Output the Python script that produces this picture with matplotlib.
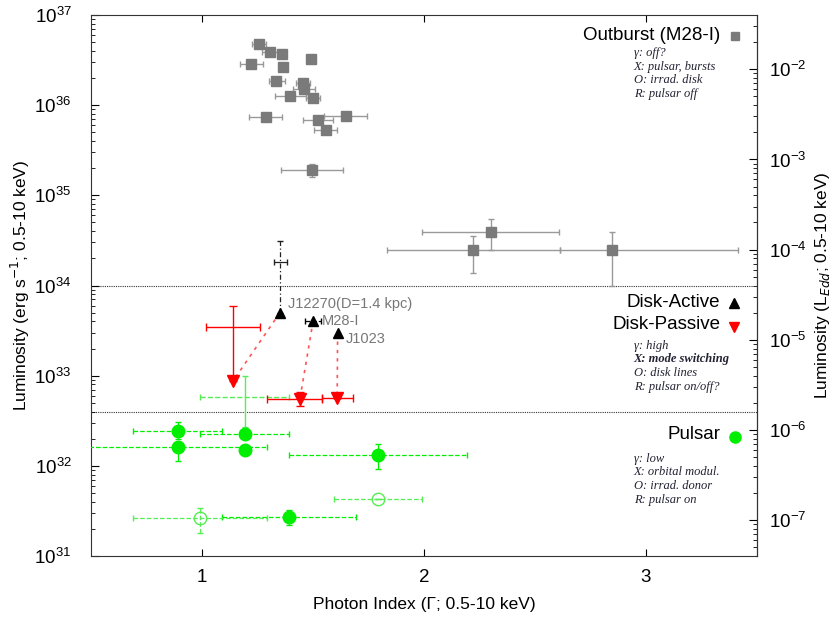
import numpy as np
import matplotlib.pyplot as plt
from matplotlib.ticker import NullFormatter

plt.rcParams['font.family'] = ['Liberation Sans', 'DejaVu Sans']

# outburst (M28-I): photon index, x range, luminosity
ob_x = [1.257, 1.305, 1.359, 1.222, 1.366, 1.491, 1.335, 1.454, 1.459, 1.396,
        1.501, 1.290, 1.649, 1.521, 1.557, 1.497, 2.221, 2.303, 2.847]
ob_xlo = [1.224, 1.269, 1.359, 1.170, 1.366, 1.491, 1.300, 1.422, 1.409, 1.329,
          1.470, 1.212, 1.551, 1.454, 1.503, 1.357, 1.835, 1.990, 2.614]
ob_xhi = [1.288, 1.344, 1.359, 1.276, 1.366, 1.491, 1.375, 1.486, 1.510, 1.470,
          1.533, 1.362, 1.745, 1.591, 1.609, 1.635, 2.614, 2.609, 3.416]
ob_y = [4.73e36, 3.92e36, 3.66e36, 2.84e36, 2.67e36, 3.25e36, 1.85e36, 1.78e36,
        1.52e36, 1.26e36, 1.19e36, 7.47e35, 7.66e35, 6.86e35, 5.35e35, 1.92e35,
        2.46e34, 3.96e34, 2.48e34]
ob_ylo = [4.73e36, 3.92e36, 3.66e36, 2.84e36, 2.67e36, 3.25e36, 1.85e36, 1.78e36,
          1.52e36, 1.26e36, 1.19e36, 7.47e35, 7.66e35, 6.86e35, 5.35e35, 1.59e35,
          1.38e34, 2.48e34, 1.0e34]
ob_yhi = [4.73e36, 3.92e36, 3.66e36, 2.84e36, 2.67e36, 3.25e36, 1.85e36, 1.78e36,
          1.52e36, 1.26e36, 1.19e36, 7.47e35, 7.66e35, 6.86e35, 5.35e35, 2.24e35,
          3.52e34, 5.43e34, 3.96e34]

# disk-active (black) sources
da_names = ['J12270(D=1.4 kpc)', 'M28-I', 'J1023']
da_x = [1.351, 1.501, 1.611]
da_xlo = [1.351, 1.463, 1.611]
da_xhi = [1.351, 1.535, 1.611]
da_y = [5.0e33, 4.08e33, 2.96e33]

# J12270 at larger distance
far_x, far_xlo, far_xhi = 1.351, 1.323, 1.384
far_y, far_ylo, far_yhi = 1.81e34, 5.0e33, 3.15e34

# disk-passive (red) sources
dp_x = [1.141, 1.441, 1.609]
dp_xlo = [1.019, 1.294, 1.542]
dp_xhi = [1.263, 1.542, 1.681]
dp_y = [8.8e32, 5.49e32, 5.64e32]
dp_ylo = [8.8e32, 4.62e32, 5.64e32]
dp_yhi = [8.8e32, 6.67e32, 5.64e32]
# upper-limit bar for the first passive source
ul_x, ul_y, ul_yhi = 1.141, 3.45e33, 5.98e33

# pulsar state (green), filled then open
ps_x = [0.891, 1.192, 0.891, 1.192, 1.793, 1.392]
ps_xlo = [0.691, 0.991, 0.40, 1.192, 1.392, 1.091]
ps_xhi = [1.091, 1.392, 1.294, 1.192, 2.194, 1.692]
ps_y = [2.43e32, 2.25e32, 1.61e32, 1.50e32, 1.31e32, 2.74e31]
ps_ylo = [2.0e32, 2.0e32, 1.14e32, 1.35e32, 9.2e31, 2.22e31]
ps_yhi = [3.05e32, 2.55e32, 1.85e32, 1.65e32, 1.74e32, 3.25e31]
po_x = [1.793, 0.991]
po_xlo = [1.595, 0.691]
po_xhi = [1.991, 1.291]
po_y = [4.28e31, 2.67e31]
po_ylo = [4.28e31, 1.82e31]
po_yhi = [4.28e31, 3.45e31]
# marker-less green point
pn_x, pn_xlo, pn_xhi = 1.192, 0.991, 1.392
pn_y, pn_ylo, pn_yhi = 5.78e32, 2.73e32, 1.0e33

bounds = [1e34, 4e32]
L_EDD = 2.5e38
lum_ticks = [1e31, 1e32, 1e33, 1e34, 1e35, 1e36, 1e37]
edd_ticks = [1e-7, 1e-6, 1e-5, 1e-4, 1e-3, 1e-2]


def errs(v, lo, hi):
    v = np.array(v)
    return [v - np.array(lo), np.array(hi) - v]


def main() -> None:
    fig = plt.figure(figsize=(8.3, 6.18), dpi=100)
    ax = fig.add_axes([0.1096, 0.1003, 0.8024, 0.8754])
    ax.set_yscale('log')
    ax.set_xlim(0.5, 3.5)
    ax.set_ylim(1e31, 1e37)

    for b in bounds:
        ax.axhline(b, color='#333333', ls=(0, (1, 1)), lw=0.8, zorder=1)

    gray = '#7a7a7a'
    ax.errorbar(ob_x, ob_y, xerr=errs(ob_x, ob_xlo, ob_xhi), yerr=errs(ob_y, ob_ylo, ob_yhi),
                fmt='s', color=gray, ecolor='#999999', ms=7, elinewidth=1, capsize=2.5, zorder=3)

    # connecting lines between active and passive states
    for i in range(3):
        ax.plot([da_x[i], dp_x[i]], [da_y[i], dp_y[i]], color='#ff5555', ls=(0, (2, 3)), lw=1.2, zorder=2)

    eb = ax.errorbar(far_x, far_y, xerr=[[far_x - far_xlo], [far_xhi - far_x]],
                     yerr=[[far_y - far_ylo], [far_yhi - far_y]], fmt='none',
                     ecolor='#222222', elinewidth=0.9, capsize=2.5, zorder=2)
    eb[2][1].set_linestyle((0, (4, 2, 1, 2)))

    eb = ax.errorbar(da_x, da_y, xerr=errs(da_x, da_xlo, da_xhi), fmt='^', color='black',
                     ms=7, elinewidth=0.9, capsize=2.5, zorder=4)
    eb[2][0].set_linestyle('--')
    offs = [(6, 1), (6, 0), (6, -4)]
    for i, n in enumerate(da_names):
        ax.annotate(n, (da_x[i], da_y[i]), xytext=offs[i], textcoords='offset points',
                    fontsize=10.5, color='#777777', va='bottom' if i == 0 else 'center')

    ax.errorbar(ul_x, ul_y, xerr=[[ul_x - dp_xlo[0]], [dp_xhi[0] - ul_x]],
                yerr=[[ul_y - dp_y[0]], [ul_yhi - ul_y]], fmt='none', ecolor='red',
                elinewidth=1, capsize=3, zorder=3)
    ax.errorbar(dp_x[1:], dp_y[1:], xerr=errs(dp_x[1:], dp_xlo[1:], dp_xhi[1:]),
                yerr=errs(dp_y[1:], dp_ylo[1:], dp_yhi[1:]), fmt='none', ecolor='red',
                elinewidth=1, capsize=3, zorder=3)
    ax.plot(dp_x, dp_y, 'v', color='red', ms=8, zorder=4)

    green = '#00ee00'
    eb = ax.errorbar(pn_x, pn_y, xerr=[[pn_x - pn_xlo], [pn_xhi - pn_x]],
                     yerr=[[pn_y - pn_ylo], [pn_yhi - pn_y]], fmt='none', ecolor='#55ee55',
                     elinewidth=1, capsize=2.5, zorder=2)
    eb[2][0].set_linestyle('--')
    eb = ax.errorbar(ps_x, ps_y, xerr=errs(ps_x, ps_xlo, ps_xhi), yerr=errs(ps_y, ps_ylo, ps_yhi),
                     fmt='o', color=green, ecolor=green, ms=9, elinewidth=0.9, capsize=2.5, zorder=3)
    eb[2][0].set_linestyle('--')
    eb = ax.errorbar(po_x, po_y, xerr=errs(po_x, po_xlo, po_xhi), yerr=errs(po_y, po_ylo, po_yhi),
                     fmt='o', mfc='none', mec='#55ee55', ecolor='#55ee55', ms=9, elinewidth=0.9,
                     capsize=2.5, zorder=3)
    eb[2][0].set_linestyle('--')
    eb[2][1].set_linestyle('--')

    # state labels on the right
    tr = ax.transAxes
    serif = dict(family=['Liberation Serif', 'DejaVu Serif'], style='italic', fontsize=9,
                 color='#222233', transform=tr, va='center')

    def block(y0, lines, bold=None):
        for k, s in enumerate(lines):
            kw = dict(serif)
            if k == bold:
                kw['weight'] = 'bold'
            ax.text(0.815, y0 - k * 0.0255, s, **kw)

    ax.text(0.945, 0.963, 'Outburst (M28-I)', fontsize=13.5, ha='right', va='center', transform=tr)
    ax.plot(0.967, 0.961, 's', color=gray, ms=6, transform=tr, clip_on=False)
    block(0.930, ['γ: off?', 'X: pulsar, bursts', 'O: irrad. disk', 'R: pulsar off'])

    ax.text(0.945, 0.468, 'Disk-Active', fontsize=13.5, ha='right', va='center', transform=tr)
    ax.plot(0.966, 0.468, '^', color='black', ms=7, transform=tr, clip_on=False)
    ax.text(0.945, 0.428, 'Disk-Passive', fontsize=13.5, ha='right', va='center', transform=tr)
    ax.plot(0.966, 0.424, 'v', color='red', ms=7, transform=tr, clip_on=False)
    block(0.389, ['γ: high', 'X: mode switching', 'O: disk lines', 'R: pulsar on/off?'], bold=1)

    ax.text(0.945, 0.224, 'Pulsar', fontsize=13.5, ha='right', va='center', transform=tr)
    ax.plot(0.967, 0.220, 'o', color=green, ms=8, transform=tr, clip_on=False)
    block(0.180, ['γ: low', 'X: orbital modul.', 'O: irrad. donor', 'R: pulsar on'])

    ax.set_xticks([1, 2, 3])
    ax.set_yticks(lum_ticks)
    ax.set_ylim(1e31, 1e37)
    ax.set_xlabel('Photon Index (Γ; 0.5-10 keV)', fontsize=12.5, labelpad=8)
    ax.set_ylabel('Luminosity (erg s$^{-1}$; 0.5-10 keV)', fontsize=12.5, labelpad=2)
    ax.tick_params(axis='both', which='both', direction='in', labelsize=13.5)
    ax.tick_params(axis='x', top=True, length=5, pad=9)
    ax.tick_params(axis='y', which='major', length=6, pad=14)
    ax.tick_params(axis='y', which='minor', length=3)
    ax.yaxis.set_minor_formatter(NullFormatter())

    ax2 = ax.secondary_yaxis('right', functions=(lambda v: v / L_EDD, lambda v: v * L_EDD))
    ax2.set_yticks(edd_ticks)
    ax2.tick_params(which='both', direction='in', labelsize=13.5)
    ax2.tick_params(which='major', length=6, pad=9)
    ax2.tick_params(which='minor', length=3)
    ax2.yaxis.set_minor_formatter(NullFormatter())
    ax2.set_ylabel('Luminosity (L$_{Edd}$; 0.5-10 keV)', fontsize=12.5)

    for sp in ax.spines.values():
        sp.set_color('#333333')

    fig.savefig('out.png', dpi=100)


if __name__ == '__main__':
    main()
